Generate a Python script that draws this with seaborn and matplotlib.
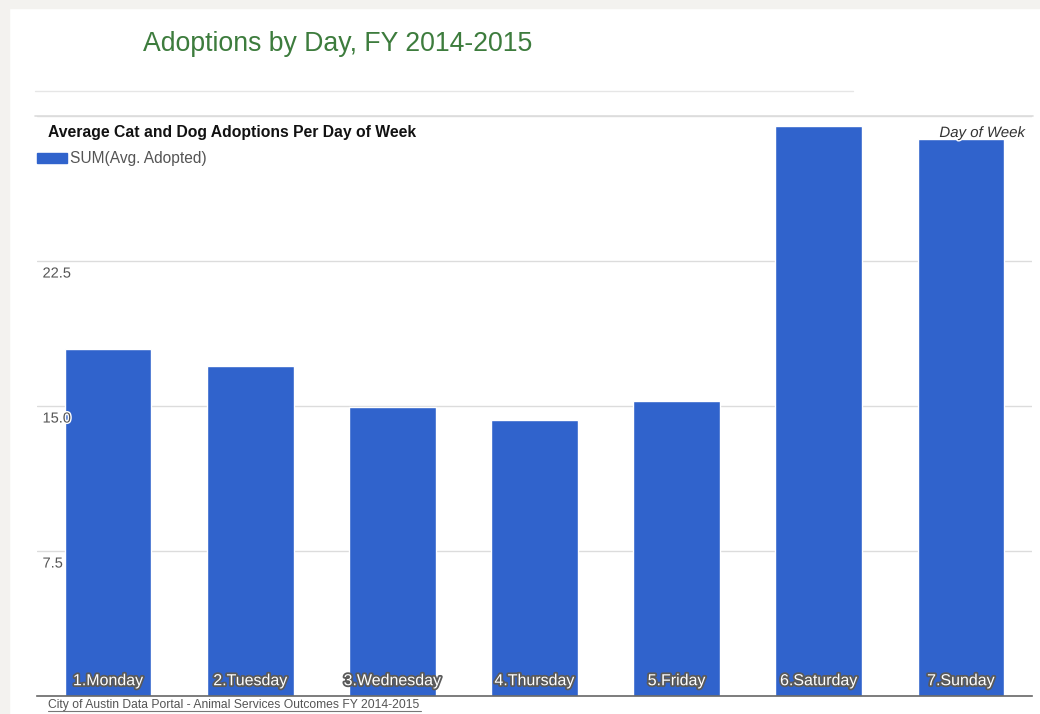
import matplotlib
matplotlib.use("Agg")
import matplotlib.pyplot as plt
import matplotlib.patheffects as pe
import seaborn as sns
import pandas as pd
from matplotlib.patches import Rectangle
from matplotlib.lines import Line2D

days = ["1.Monday", "2.Tuesday", "3.Wednesday", "4.Thursday", "5.Friday", "6.Saturday", "7.Sunday"]
avg_adopted = [17.95, 17.07, 14.95, 14.28, 15.26, 29.48, 28.81]
yticks = [7.5, 15.0, 22.5, 30.0]
ytick_labels = ["7.5", "15.0", "22.5", ""]

sns.set_theme(style="white")
plt.rcParams['font.family'] = ['Liberation Sans', 'DejaVu Sans']

W, H = 1040, 714
fig = plt.figure(figsize=(W / 100, H / 100), dpi=100)
fig.patch.set_facecolor("white")

# outer page frame
fig.add_artist(Rectangle((0, 0), 9 / W, 1, transform=fig.transFigure, color="#f3f2ef", zorder=0))
fig.add_artist(Rectangle((0, 1 - 8 / H), 1, 8 / H, transform=fig.transFigure, color="#f3f2ef", zorder=0))

left, right = 37 / W, 1032 / W
bottom, top = 1 - 696 / H, 1 - 116 / H
ax = fig.add_axes([left, bottom, right - left, top - bottom])

df = pd.DataFrame({"day": days, "value": avg_adopted})
sns.barplot(data=df, x="day", y="value", color="#3063cc", saturation=1, width=0.61, ax=ax, zorder=3)

ax.set_xlim(-0.5, 6.5)
ax.set_ylim(0, 30)
ax.set_yticks(yticks)
ax.set_yticklabels([])
ax.set_xticks([])
ax.set_xlabel("")
ax.set_ylabel("")
ax.grid(axis="y", color="#dcdcdc", linewidth=1, zorder=0)
ax.tick_params(length=0)
for s in ["top", "right", "left"]:
    ax.spines[s].set_visible(False)
ax.spines["bottom"].set_color("#666666")
ax.spines["bottom"].set_linewidth(1.2)
ax.spines["bottom"].set_zorder(5)

# y tick labels inside plot, below gridlines
for yv, lab in zip(yticks, ytick_labels):
    if lab:
        ax.annotate(lab, xy=(0, yv), xycoords=("axes fraction", "data"),
                    xytext=(4, -4), textcoords="offset points", ha="left", va="top",
                    fontsize=10.5, color="#555555", zorder=6,
                    path_effects=[pe.withStroke(linewidth=2, foreground="white")])

# bar labels
for i, d in enumerate(days):
    ax.annotate(d, xy=(i, 0), xycoords="data", xytext=(0, 11), textcoords="offset points",
                ha="center", va="center", fontsize=11.5, color="white", zorder=6,
                path_effects=[pe.withStroke(linewidth=2.6, foreground="#5a5a5a")])

# title and decorations
fig.text(143 / W, 1 - 44 / H, "Adoptions by Day, FY 2014-2015", fontsize=19.2,
         color="#3d7c3d", ha="left", va="center")
fig.add_artist(Line2D([35 / W, 853 / W], [1 - 91 / H, 1 - 91 / H], transform=fig.transFigure,
                      color="#e6e6e6", linewidth=1))
fig.add_artist(Line2D([35 / W, 1033 / W], [1 - 116 / H, 1 - 116 / H], transform=fig.transFigure,
                      color="#dcdcdc", linewidth=1.2))
fig.text(48 / W, 1 - 133 / H, "Average Cat and Dog Adoptions Per Day of Week", fontsize=11.3,
         fontweight="bold", color="#111111", ha="left", va="center")
fig.add_artist(Rectangle((37 / W, 1 - 163 / H), 30 / W, 10 / H, transform=fig.transFigure,
                         color="#3063cc"))
fig.text(70 / W, 1 - 158 / H, "SUM(Avg. Adopted)", fontsize=11.2, color="#555555",
         ha="left", va="center")
fig.text(1025 / W, 1 - 133 / H, "Day of Week", fontsize=10.8, style="italic", color="#333333",
         ha="right", va="center", zorder=10,
         path_effects=[pe.withStroke(linewidth=2, foreground="white")])
fig.text(48 / W, 1 - 705 / H, "City of Austin Data Portal - Animal Services Outcomes FY 2014-2015",
         fontsize=8.7, color="#555555", ha="left", va="center")
fig.add_artist(Line2D([48 / W, 421 / W], [1 - 711 / H, 1 - 711 / H], transform=fig.transFigure,
                      color="#777777", linewidth=0.8))

fig.savefig("out.png", dpi=100)
